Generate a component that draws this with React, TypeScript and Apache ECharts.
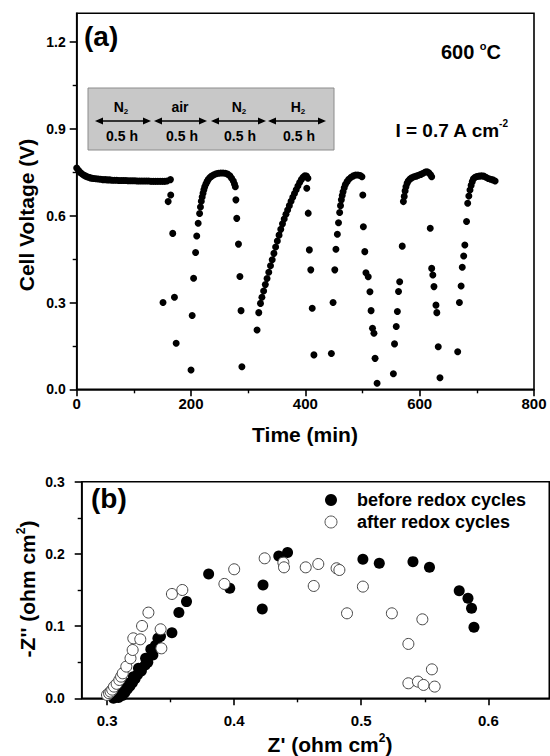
import React, { useEffect, useRef } from "react";
import * as echarts from "echarts";

// ---------- data: panel (a) cell voltage vs time, [time (min), voltage (V)] ----------
const stableRun: number[][] = [
  [0, 0.765], [3, 0.757], [6, 0.75], [9, 0.745], [12, 0.741], [15, 0.738], [18, 0.735], [21, 0.733],
  [24, 0.731], [27, 0.73], [30, 0.729], [34, 0.728], [38, 0.727], [42, 0.726], [46, 0.725], [50, 0.725],
  [54, 0.724], [58, 0.724], [62, 0.723], [66, 0.723], [70, 0.723], [74, 0.722], [78, 0.722], [82, 0.722],
  [86, 0.722], [90, 0.721], [94, 0.721], [98, 0.721], [102, 0.721], [106, 0.72], [110, 0.72], [114, 0.72],
  [118, 0.72], [122, 0.72], [126, 0.72], [130, 0.719], [134, 0.719], [138, 0.719], [142, 0.719],
  [146, 0.719], [150, 0.719], [154, 0.719], [158, 0.72], [164, 0.725],
];
const redoxCycle1: number[][] = [
  [151, 0.3], [160, 0.649], [164.5, 0.672], [168, 0.539], [171, 0.318], [174, 0.159], [200, 0.067],
  [202, 0.255], [204.5, 0.384], [208, 0.473], [210, 0.53], [212.5, 0.574], [215, 0.608], [216.5, 0.63],
  [218, 0.65], [219.5, 0.665], [221, 0.678], [222.5, 0.69], [224, 0.7], [226, 0.71], [228, 0.718],
  [230, 0.725], [233, 0.732], [236, 0.737], [240, 0.742], [244, 0.745], [248, 0.747], [252, 0.748],
  [256, 0.748], [260, 0.747], [264, 0.744], [268, 0.738], [271, 0.73], [274, 0.72], [276, 0.71],
  [277.5, 0.7], [278.5, 0.655], [280, 0.591], [283, 0.502], [285.5, 0.39], [287.5, 0.272], [289, 0.078],
];
const redoxCycle2: number[][] = [
  [315.5, 0.205], [318.5, 0.265], [321.5, 0.297], [324, 0.318], [327, 0.34], [330, 0.362], [333, 0.383],
  [336, 0.405], [339, 0.427], [342, 0.448], [345, 0.47], [348, 0.492], [351, 0.513], [354, 0.533],
  [357, 0.553], [360, 0.572], [363, 0.589], [366, 0.605], [369, 0.62], [372, 0.635], [375, 0.65],
  [378, 0.664], [381, 0.677], [384, 0.69], [387, 0.703], [390, 0.715], [393, 0.725], [396, 0.733],
  [399, 0.738], [402, 0.737], [404.5, 0.73], [402.5, 0.695], [405, 0.609], [407, 0.482], [409.5, 0.413],
  [412, 0.28], [415, 0.119],
];
const redoxCycle3: number[][] = [
  [445.5, 0.124], [448.5, 0.3], [451.5, 0.413], [453.5, 0.484], [456, 0.536], [458, 0.576], [460, 0.611],
  [461.5, 0.635], [463, 0.655], [464.5, 0.67], [466, 0.683], [468, 0.697], [470, 0.708], [473, 0.718],
  [476, 0.726], [480, 0.733], [484, 0.738], [488, 0.741], [492, 0.741], [496, 0.739], [499, 0.735],
  [500.5, 0.672], [501.5, 0.562], [504, 0.476], [506, 0.403], [510, 0.389], [513, 0.337], [515, 0.272],
  [517.5, 0.211], [520, 0.194], [522, 0.107], [525.5, 0.021],
];
const redoxCycle4: number[][] = [
  [554, 0.054], [556, 0.157], [559, 0.217], [561, 0.269], [563, 0.338], [565, 0.372], [569.5, 0.495],
  [571.5, 0.649], [573, 0.667], [574.5, 0.686], [576, 0.7], [578, 0.712], [580, 0.72], [583, 0.727],
  [586, 0.731], [590, 0.735], [594, 0.737], [598, 0.74], [602, 0.743], [606, 0.747], [610, 0.751],
  [613, 0.752], [616, 0.749], [619, 0.742], [621, 0.735], [618.5, 0.557], [621, 0.418], [623, 0.395],
  [625, 0.355], [628.5, 0.291], [630, 0.265], [632.5, 0.147], [635.5, 0.04],
];
const redoxCycle5: number[][] = [
  [666.5, 0.13], [669.5, 0.3], [672.5, 0.357], [674.5, 0.422], [677, 0.461], [679, 0.499], [682, 0.58],
  [684, 0.643], [686, 0.668], [688, 0.689], [690, 0.705], [692, 0.718], [694, 0.728], [697, 0.733],
  [700, 0.736], [704, 0.737], [708, 0.738], [712, 0.737], [716, 0.733], [720, 0.729], [724, 0.726],
  [728, 0.724], [732, 0.72],
];

// ---------- data: panel (b) impedance, [Z' (ohm cm2), -Z'' (ohm cm2)] ----------
const beforeRedox: number[][] = [
  [0.305, 0.0], [0.309, 0.001], [0.312, 0.004], [0.314, 0.008], [0.316, 0.013], [0.318, 0.017],
  [0.32, 0.022], [0.322, 0.027], [0.324, 0.033], [0.327, 0.038], [0.33, 0.046], [0.332, 0.05],
  [0.336, 0.06], [0.338, 0.073], [0.3068, 0.0014], [0.3096, 0.0046], [0.3123, 0.0115], [0.3165, 0.0208],
  [0.3206, 0.03], [0.3247, 0.0415], [0.3303, 0.0554], [0.3344, 0.0679], [0.34, 0.0831], [0.342, 0.086],
  [0.351, 0.0909], [0.3565, 0.1187], [0.3625, 0.1339], [0.3799, 0.1722], [0.3965, 0.1524],
  [0.4221, 0.1237], [0.4227, 0.157], [0.4351, 0.1971], [0.442, 0.2018], [0.5013, 0.1925],
  [0.5142, 0.187], [0.5407, 0.1893], [0.5537, 0.1814], [0.5771, 0.149], [0.584, 0.1385],
  [0.5868, 0.1247], [0.5887, 0.0983],
];
const afterRedox: number[][] = [
  [0.2999, 0.0046], [0.3015, 0.007], [0.3027, 0.0092], [0.304, 0.012], [0.3054, 0.0162], [0.3075, 0.02],
  [0.3096, 0.0254], [0.311, 0.03], [0.3123, 0.0346], [0.3151, 0.0439], [0.3184, 0.0554], [0.3201, 0.0669],
  [0.3206, 0.0831], [0.3261, 0.0817], [0.3275, 0.1002], [0.3325, 0.1187], [0.3421, 0.0956],
  [0.3427, 0.0692], [0.351, 0.1445], [0.3592, 0.15], [0.3923, 0.1584], [0.4, 0.1787], [0.424, 0.1939],
  [0.4387, 0.1879], [0.4392, 0.1814], [0.4563, 0.1814], [0.4626, 0.1556], [0.4662, 0.186],
  [0.4806, 0.1801], [0.4828, 0.1777], [0.4888, 0.1177], [0.5013, 0.1547], [0.5241, 0.1177],
  [0.5481, 0.1094], [0.5371, 0.0753], [0.5556, 0.0401], [0.5371, 0.0208], [0.5446, 0.0231],
  [0.549, 0.0185], [0.5578, 0.0162],
];

// ---------- ticks & labels ----------
const timeTicks = [0, 200, 400, 600, 800];
const timeMinorTicks = [100, 300, 500, 700];
const voltageTicks = [0, 0.3, 0.6, 0.9, 1.2];
const voltageMinorTicks = [0.15, 0.45, 0.75, 1.05];
const zReTicks = [0.3, 0.4, 0.5, 0.6];
const zReMinorTicks = [0.35, 0.45, 0.55];
const zImTicks = [0, 0.1, 0.2, 0.3];
const zImMinorTicks = [0.05, 0.15, 0.25];
const gasPhases = ["N", "air", "N", "H"];
const gasSubscripts = ["2", "", "2", "2"];
const phaseDuration = "0.5 h";
const legendNames = ["before redox cycles", "after redox cycles"];

const FONT = "'Liberation Sans', Arial, Helvetica, sans-serif";

function mainAxis(grid: number, min: number, max: number, ticks: number[], fmt: (v: number) => string,
  pos: string, margin: number, fontSize: number) {
  return {
    type: "value", gridIndex: grid, min, max, position: pos,
    axisLine: { show: true, onZero: false, lineStyle: { color: "#000", width: 1.6 } },
    axisTick: { show: true, inside: false, length: 7, customValues: ticks, lineStyle: { color: "#000", width: 1.6 } },
    axisLabel: {
      show: true, customValues: ticks, formatter: fmt, margin,
      fontSize, fontWeight: "bold", fontFamily: FONT, color: "#000",
    },
    splitLine: { show: false },
  };
}
function minorAxis(grid: number, min: number, max: number, ticks: number[], pos: string) {
  return {
    type: "value", gridIndex: grid, min, max, position: pos,
    axisLine: { show: false, onZero: false },
    axisTick: { show: true, inside: false, length: 4, customValues: ticks, lineStyle: { color: "#000", width: 1.4 } },
    axisLabel: { show: false },
    splitLine: { show: false },
  };
}

function arrowGraphics(x1: number, x2: number, y: number) {
  const head = 8, half = 3.5;
  return [
    { type: "line", shape: { x1: x1 + 2, y1: y, x2: x2 - 2, y2: y }, style: { stroke: "#000", lineWidth: 1.3 } },
    { type: "polygon", shape: { points: [[x1, y], [x1 + head, y - half], [x1 + head, y + half]] }, style: { fill: "#000" } },
    { type: "polygon", shape: { points: [[x2, y], [x2 - head, y - half], [x2 - head, y + half]] }, style: { fill: "#000" } },
  ];
}

export default function App() {
  const ref = useRef<HTMLDivElement>(null);
  useEffect(() => {
    if (!ref.current) return;
    const chart = echarts.init(ref.current, undefined, { renderer: "svg" });

    const fmt1 = (v: number) => v.toFixed(1);
    const fmt0 = (v: number) => String(Math.round(v));

    const cycleSeries = [stableRun, redoxCycle1, redoxCycle2, redoxCycle3, redoxCycle4, redoxCycle5].map((d) => ({
      type: "scatter", xAxisIndex: 0, yAxisIndex: 0, data: d, symbol: "circle", symbolSize: 7,
      itemStyle: { color: "#000", opacity: 1 }, silent: true,
    }));

    const segs = [[95, 151], [154, 207], [211, 266], [268, 326]];
    const gasX = [121, 180, 239, 298];
    const durX = [122, 182, 240, 299];

    const boxText: any[] = [];
    gasPhases.forEach((g, i) => {
      boxText.push({
        type: "text", x: gasX[i], y: 107,
        style: {
          text: gasSubscripts[i] ? `{m|${g}}{s|${gasSubscripts[i]}}` : `{m|${g}}`,
          align: "center", verticalAlign: "middle",
          rich: {
            m: { fontSize: 14, fontWeight: "bold", fontFamily: FONT, fill: "#000", lineHeight: 17 },
            s: { fontSize: 8, fontWeight: "bold", fontFamily: FONT, fill: "#000", lineHeight: 8, verticalAlign: "bottom" },
          },
        },
      });
      boxText.push({
        type: "text", x: durX[i], y: 136,
        style: { text: phaseDuration, align: "center", verticalAlign: "middle", fontSize: 14, fontWeight: "bold", fontFamily: FONT, fill: "#000" },
      });
    });
    const arrows: any[] = [];
    segs.forEach(([a, b]) => arrows.push(...arrowGraphics(a, b, 121)));

    const titleRich = (size: number) => ({
      t: { fontSize: size, fontWeight: "bold", fontFamily: FONT, fill: "#000", lineHeight: size + 4 },
      p: { fontSize: Math.round(size * 0.55), fontWeight: "bold", fontFamily: FONT, fill: "#000", lineHeight: Math.round(size * 0.55), verticalAlign: "top" },
    });

    chart.setOption({
      animation: false,
      grid: [
        { left: 76.7, top: 13.3, width: 457.3, height: 376, show: true, borderColor: "#000", borderWidth: 1.6, backgroundColor: "transparent" },
        { left: 81.7, top: 481.7, width: 467.6, height: 216.6, show: true, borderColor: "#000", borderWidth: 1.6, backgroundColor: "transparent" },
      ],
      xAxis: [
        mainAxis(0, 0, 800, timeTicks, fmt0, "bottom", 7, 15),
        minorAxis(0, 0, 800, timeMinorTicks, "bottom"),
        mainAxis(1, 0.28, 0.648, zReTicks, fmt1, "bottom", 15, 15),
        minorAxis(1, 0.28, 0.648, zReMinorTicks, "bottom"),
      ],
      yAxis: [
        mainAxis(0, 0, 1.3, voltageTicks, fmt1, "left", 11, 14),
        minorAxis(0, 0, 1.3, voltageMinorTicks, "left"),
        mainAxis(1, 0, 0.3, zImTicks, fmt1, "left", 17, 14),
        minorAxis(1, 0, 0.3, zImMinorTicks, "left"),
      ],
      series: [
        ...cycleSeries,
        {
          name: legendNames[0], type: "scatter", xAxisIndex: 2, yAxisIndex: 2, data: beforeRedox,
          symbol: "circle", symbolSize: 11, itemStyle: { color: "#000", opacity: 1 }, silent: true,
        },
        {
          name: legendNames[1], type: "scatter", xAxisIndex: 2, yAxisIndex: 2, data: afterRedox,
          symbol: "circle", symbolSize: 11, itemStyle: { color: "#fff", borderColor: "#444", borderWidth: 1, opacity: 1 }, silent: true,
        },
      ],
      graphic: [
        { type: "rect", shape: { x: 88, y: 88, width: 246, height: 62 }, style: { fill: "#c8c8c8", stroke: "#8c8c8c", lineWidth: 1 }, z: 10 },
        ...boxText.map((e) => ({ ...e, z: 11 })),
        ...arrows.map((e) => ({ ...e, z: 11 })),
        { type: "text", x: 84, y: 36, style: { text: "(a)", fontSize: 28, fontWeight: "bold", fontFamily: FONT, fill: "#000", align: "left", verticalAlign: "middle" } },
        { type: "text", x: 501, y: 52, style: { text: "{t|600 }{p|o}{t|C}", align: "right", verticalAlign: "middle", rich: titleRich(20) } },
        { type: "text", x: 508, y: 130, style: { text: "{t|I = 0.7 A cm}{p|-2}", align: "right", verticalAlign: "middle", rich: titleRich(19) } },
        { type: "text", x: 305, y: 434, style: { text: "Time (min)", fontSize: 21, fontWeight: "bold", fontFamily: FONT, fill: "#000", align: "center", verticalAlign: "middle" } },
        { type: "text", x: 26, y: 215, rotation: Math.PI / 2, style: { text: "Cell Voltage (V)", fontSize: 21, fontWeight: "bold", fontFamily: FONT, fill: "#000", align: "center", verticalAlign: "middle" } },
        { type: "text", x: 91, y: 498, style: { text: "(b)", fontSize: 28, fontWeight: "bold", fontFamily: FONT, fill: "#000", align: "left", verticalAlign: "middle" } },
        { type: "circle", shape: { cx: 331, cy: 500, r: 6 }, style: { fill: "#000" } },
        { type: "circle", shape: { cx: 331, cy: 522, r: 6 }, style: { fill: "#fff", stroke: "#555", lineWidth: 1 } },
        { type: "text", x: 357, y: 500, style: { text: legendNames[0], fontSize: 18, fontWeight: "bold", fontFamily: FONT, fill: "#000", align: "left", verticalAlign: "middle" } },
        { type: "text", x: 357, y: 522, style: { text: legendNames[1], fontSize: 18, fontWeight: "bold", fontFamily: FONT, fill: "#000", align: "left", verticalAlign: "middle" } },
        { type: "text", x: 330, y: 744, style: { text: "{t|Z' (ohm cm}{p|2}{t|)}", align: "center", verticalAlign: "middle", rich: titleRich(21) } },
        { type: "text", x: 27, y: 589, rotation: Math.PI / 2, style: { text: "{t|-Z'' (ohm cm}{p|2}{t|)}", align: "center", verticalAlign: "middle", rich: titleRich(21) } },
      ],
    });
    return () => chart.dispose();
  }, []);
  return <div ref={ref} style={{ position: "absolute", left: 0, top: 0, width: 550, height: 756 }} />;
}
